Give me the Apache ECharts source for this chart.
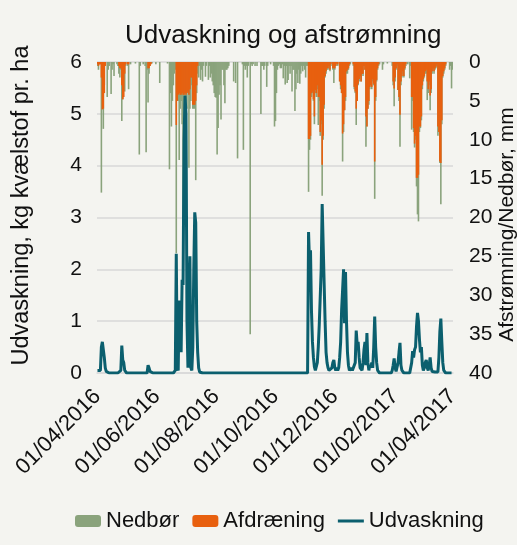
<!DOCTYPE html>
<html>
<head>
<meta charset="utf-8">
<script src="https://cdn.jsdelivr.net/npm/echarts@6/dist/echarts.min.js"></script>
<style>
  html, body { margin: 0; padding: 0; background: #f4f4f0; }
  #chart { width: 517px; height: 545px; }
</style>
</head>
<body>
<div id="chart"></div>
<script>
// daily values 01/04/2016 .. 01/04/2017, one line per month

var tickLabels = ['01/04/2016', '01/06/2016', '01/08/2016', '01/10/2016', '01/12/2016', '01/02/2017', '01/04/2017'];

// Nedbør, mm
var nedbor = [
  0.5,1.0,0.3,0,16.8,6.0,8.6,3.0,0.5,0, 4.5,1.0,0.5,0,4.1,1.0,0.3,1.8,0,0, 0.3,0.5,1.5,2.0,1.0,7.6,4.8,3.0,3.8,0.5,
  0,0.5,3.5,0,0.3,0,0,0,0,0.2, 0,0,0,11.9,0.5,0,0,0.3,0,0.5, 11.6,1.0,5.2,1.5,0.5,0,0.2,0,0,0, 0.3,
  0,0,0,2.7,0,0,0,0,0,0, 0,0.2,0,13.8,4.0,8.3,5.0,3.0,1.5,1.0, 24.6,5.0,5.0,12.6,6.0,5.0,8.0,20.0,6.0,8.0,
  5,6,4,13.6,6,5,3,6,6,6, 15.2,4,1.5,2.0,0.5,2.3,1,2.5,0.5,0, 1.9,0.5,0,2.3,0.5,2.0,1.5,2.5,3.0,4.0, 4.5,
  4.6,11.9,8.5,4.2,3.0,7.4,1.0,1.0,3.0,5.3, 1.0,1.0,0.8,0.5,0,0,0,0,2.5,0, 2.7,0,12.4,0,0,0,0,0.3,11.3,0.5, 1.0,
  0.5,2.0,0.5,0,35,0.3,0.5,0.3,0,0.5, 0,0.5,0,0,0,6.7,0.5,0.5,1.0,0.5, 0,3.2,0.5,0,0,0.3,0,0,0.5,8.3,
  7.6,4.0,1.0,0.5,0.3,0.8,0.8,0.3,2.1,0.5, 2.9,0.5,2.7,2.3,0.5,1.5,0.5,3.8,1.0,1.0, 6.3,3.5,1.5,2.7,1.0,2.8,1.5,0.5,1.2,0.5, 1.0,
  2.0,0.5,0.5,16.7,11.3,10.0,4.5,4.0,5.0,8.0, 4.0,4.5,3.5,8.1,5.0,9.5,8.0,17.2,10.0,6.0, 2.0,1.5,1.0,1.0,0.8,1.2,0.5,0,1.0,2.7,
  1.0,0.5,0.3,0.5,0,2.5,3.5,4.0,12.8,9.0, 6.2,5.0,1.5,1.5,1.0,0.5,0.3,0,0,0.5, 3.5,4.0,8.1,5.0,3.0,2.5,2.0,2.5,1.5,1.8, 0.5,
  1.0,10.9,8.3,6.0,5.5,3.5,3.0,3.5,2.5,3.0, 17.6,5.0,2.5,1.0,0.5,0.3,0,0,1.0,0.3, 0,0,0,0.2,0,0,0,0,0.5,3.0, 5.7,
  2.5,1.0,0.5,3.6,5.0,10.9,3.0,2.0,1.5,2.0, 1.0,0.5,0,0.3,0,2.1,0.5,8.7,5.0,9.0, 11.0,10.0,16.0,19.6,20.5,9.0,8.5,7.5,
  3.5,2.5,2.0,1.5,1.5,4.9,4.0,3.0,6.2,4.0, 1.5,1.0,1.5,1.0,0.8,0.5,9.5,9.0,13.0,18.3, 8.0,2.0,1.5,1.0,0.5,0,0,0,1.0,0.5, 3.4,
  1.0
];

// Afdræning, mm
var afdraening = [
  0.3,0.5,0.3,0.3,2.0,6.1,6.0,4.0,0.5,0, 0,0,0,0,0,0,0,0,0,0, 0,0,0.5,0.8,0.8,3.0,4.8,4.5,1.5,0.3,
  0,0.3,0.3,0,0,0,0,0,0,0, 0,0,0,0,0,0,0,0,0,0, 0,0,0.8,0.8,0.5,0.3,0,0,0,0, 0,
  0,0,0,0,0,0,0,0,0,0, 0,0,0,0,0,0,0,0,0,0, 8.1,5.0,4.2,4.0,4.2,4.2,4.0,4.2,4.2,4.0,
  4.2,4.0,3.8,4.2,3.5,2.0,2.0,5.5,5.5,5.5, 5.0,3.0,0.5,0,0,0,0,0,0,0, 0,0,0,0,0,0,0,0,0,0, 0,
  0,0,0,0,0,0,0,0,0,0, 0,0,0,0,0,0,0,0,0,0, 0,0,0,0,0,0,0,0,0,0, 0,
  0,0,0,0,0,0,0,0,0,0, 0,0,0,0,0,0,0,0,0,0, 0,0,0,0,0,0,0,0,0,0,
  0,0,0,0,0,0,0,0,0,0, 0,0,0,0,0,0,0,0,0,0, 0,0,0,0,0,0,0,0,0,0, 0,
  0,0,0,9.9,9.9,9.5,4.0,3.8,4.8,7.0, 3.6,4.0,3.0,4.5,4.5,9.0,7.5,13.2,9.5,5.5, 1.8,1.2,0.8,0.8,0.5,1.0,0.3,0,0.8,0.8,
  0.8,0.5,0.2,0.3,0,2.5,3.0,4.0,9.2,8.0, 6.2,4.5,1.2,1.0,0.8,0.3,0,0,0,0.3, 3.2,3.8,6.0,5.0,2.8,2.2,1.8,2.5,1.5,1.5, 0.5,
  1.0,7.0,8.3,6.0,5.0,3.2,3.0,3.2,2.2,2.8, 12.8,4.5,2.3,0.8,0.3,0,0,0,0,0, 0,0,0,0,0,0,0,0,0,2.5, 3.4,
  2.0,0.8,0.3,3.6,4.5,6.8,2.5,1.8,1.2,1.8, 0.8,0.3,0,0,0,0,0,4.5,4.5,8.5, 10.5,9.5,14.9,14.9,14.5,8.3,8.3,7.0,
  3.0,2.2,1.8,1.2,1.0,2.5,3.5,2.5,4.3,3.5, 1.2,0.8,1.2,0.8,0.6,0.3,8.3,9.0,12.8,13.0, 7.5,1.8,1.2,0.8,0.3,0,0,0,0,0, 0,
  0
];

// Udvaskning, kg kvælstof pr. ha
var udvaskning = [
  0.05,0.02,0.02,0.05,0.5,0.6,0.63,0.3,0.1,0.03, 0.02,0,0,0,0,0,0,0,0,0, 0,0,0,0,0.05,0.53,0.25,0.2,0.05,0.02,
  0,0,0,0,0,0,0,0,0,0, 0,0,0,0,0,0,0,0,0,0, 0,0,0.15,0.1,0.03,0,0,0,0,0, 0,
  0,0,0,0,0,0,0,0,0,0, 0,0,0,0,0,0,0,0,0,0.05, 2.3,0.1,0.05,1.4,1.0,0.4,1.8,1.7,4.5,5.35,
  5.0,1.0,0.1,1.5,2.25,0.1,0.05,0.5,2.0,3.1, 2.9,1.0,0.4,0.1,0.02,0,0,0,0,0, 0,0,0,0,0,0,0,0,0,0, 0,
  0,0,0,0,0,0,0,0,0,0, 0,0,0,0,0,0,0,0,0,0, 0,0,0,0,0,0,0,0,0,0, 0,
  0,0,0,0,0,0,0,0,0,0, 0,0,0,0,0,0,0,0,0,0, 0,0,0,0,0,0,0,0,0,0,
  0,0,0,0,0,0,0,0,0,0, 0,0,0,0,0,0,0,0,0,0, 0,0,0,0,0,0,0,0,0,0, 0,
  0,0,0,2.72,2.1,2.37,1.2,0.6,0.3,0.12, 0.05,0.02,0.2,0.5,0.93,0.95,2.0,3.26,2.5,2.47, 1.0,0.4,0.2,0.1,0.05,0.02,0.03,0.1,0.2,0.25,
  0.1,0.05,0.1,0.05,0.1,0.3,0.6,1.22,1.6,2.0, 0.96,1.95,1.0,0.4,0.15,0.05,0.03,0.1,0.05,0.02, 0.05,0.2,0.82,0.55,0.6,0.3,0.1,0.08,0.05,0.2, 0.45,
  0.6,0.15,0.77,0.2,0.05,0.15,0.1,0.2,0.1,0.5, 1.09,0.5,0.2,0.05,0.02,0,0,0,0,0, 0,0,0,0,0,0,0,0,0.05,0.15, 0.28,
  0.1,0.03,0.02,0.2,0.4,0.58,0.15,0.05,0.02,0, 0,0,0,0,0,0,0.02,0.2,0.42,0.3, 0.45,0.5,0.9,1.16,1.0,0.65,0.4,0.5,
  0.15,0.05,0.1,0.2,0.25,0.1,0.05,0.15,0.3,0.1, 0.03,0.02,0.02,0.02,0.02,0.02,0.02,0.3,0.8,1.05, 0.6,0.2,0.05,0.02,0,0,0,0,0,0, 0,
  0
];

// one category per day
var days = [];
for (var i = 0; i < nedbor.length; i++) {
  var d = new Date(Date.UTC(2016, 3, 1 + i));
  var dd = ('0' + d.getUTCDate()).slice(-2);
  var mm = ('0' + (d.getUTCMonth() + 1)).slice(-2);
  days.push(dd + '/' + mm + '/' + d.getUTCFullYear());
}

var myChart = echarts.init(document.getElementById('chart'));

var font = 'Liberation Sans, Arial, sans-serif';

var option = {
  backgroundColor: '#f4f4f0',
  textStyle: { fontFamily: font },
  title: {
    text: 'Udvaskning og afstrømning',
    left: 120,
    top: 18,
    textStyle: { fontSize: 26, fontWeight: 'normal', color: '#111', fontFamily: font }
  },
  legend: {
    bottom: 8,
    left: 70,
    itemWidth: 26,
    itemHeight: 12,
    itemGap: 13,
    textStyle: { fontSize: 22, color: '#111', fontFamily: font },
    data: [
      { name: 'Nedbør' },
      { name: 'Afdræning' },
      { name: 'Udvaskning', icon: 'path://M0,0 H26 V3 H0 Z' }
    ]
  },
  grid: { left: 97, right: 64, top: 62, bottom: 172, containLabel: false, outerBoundsMode: 'none' },
  xAxis: {
    type: 'category',
    data: days,
    boundaryGap: true,
    axisTick: { show: false },
    axisLine: { lineStyle: { color: '#d9d9d9', width: 1.5 } },
    axisLabel: {
      interval: function (idx, val) { return tickLabels.indexOf(val) >= 0; },
      rotate: 45,
      fontSize: 22,
      color: '#111',
      margin: 20
    },
    splitLine: { show: false }
  },
  yAxis: [
    {
      type: 'value',
      min: 0,
      max: 6,
      interval: 1,
      name: 'Udvaskning, kg kvælstof pr. ha',
      nameLocation: 'middle',
      nameGap: 63,
      nameMoveOverlap: false,
      nameTextStyle: { fontSize: 23.5, color: '#111', padding: [0, 0, 0, 24] },
      axisLine: { show: false },
      axisTick: { show: false },
      axisLabel: { fontSize: 21, color: '#111', margin: 15 },
      splitLine: { lineStyle: { color: '#d9d9d9', width: 1.5 } }
    },
    {
      type: 'value',
      min: 0,
      max: 40,
      interval: 5,
      inverse: true,
      position: 'right',
      name: 'Afstrømning/Nedbør, mm',
      nameLocation: 'middle',
      nameRotate: 90,
      nameGap: 44,
      nameMoveOverlap: false,
      nameTextStyle: { fontSize: 21, color: '#111', padding: [0, 14, 0, 0] },
      axisLine: { show: false },
      axisTick: { show: false },
      axisLabel: { fontSize: 21, color: '#111', margin: 16 },
      splitLine: { show: false }
    }
  ],
  series: [
    {
      name: 'Nedbør',
      type: 'bar',
      yAxisIndex: 1,
      data: nedbor,
      barWidth: 1.6,
      barGap: '-100%',
      itemStyle: { color: '#8aa37c' }
    },
    {
      name: 'Afdræning',
      type: 'bar',
      yAxisIndex: 1,
      data: afdraening,
      barWidth: 1.6,
      barGap: '-100%',
      itemStyle: { color: '#e8600f' }
    },
    {
      name: 'Udvaskning',
      type: 'line',
      yAxisIndex: 0,
      data: udvaskning,
      symbol: 'none',
      z: 5,
      lineStyle: { width: 3, color: '#0b5f6e' },
      itemStyle: { color: '#0b5f6e' }
    }
  ]
};

myChart.setOption(option);
</script>
</body>
</html>
